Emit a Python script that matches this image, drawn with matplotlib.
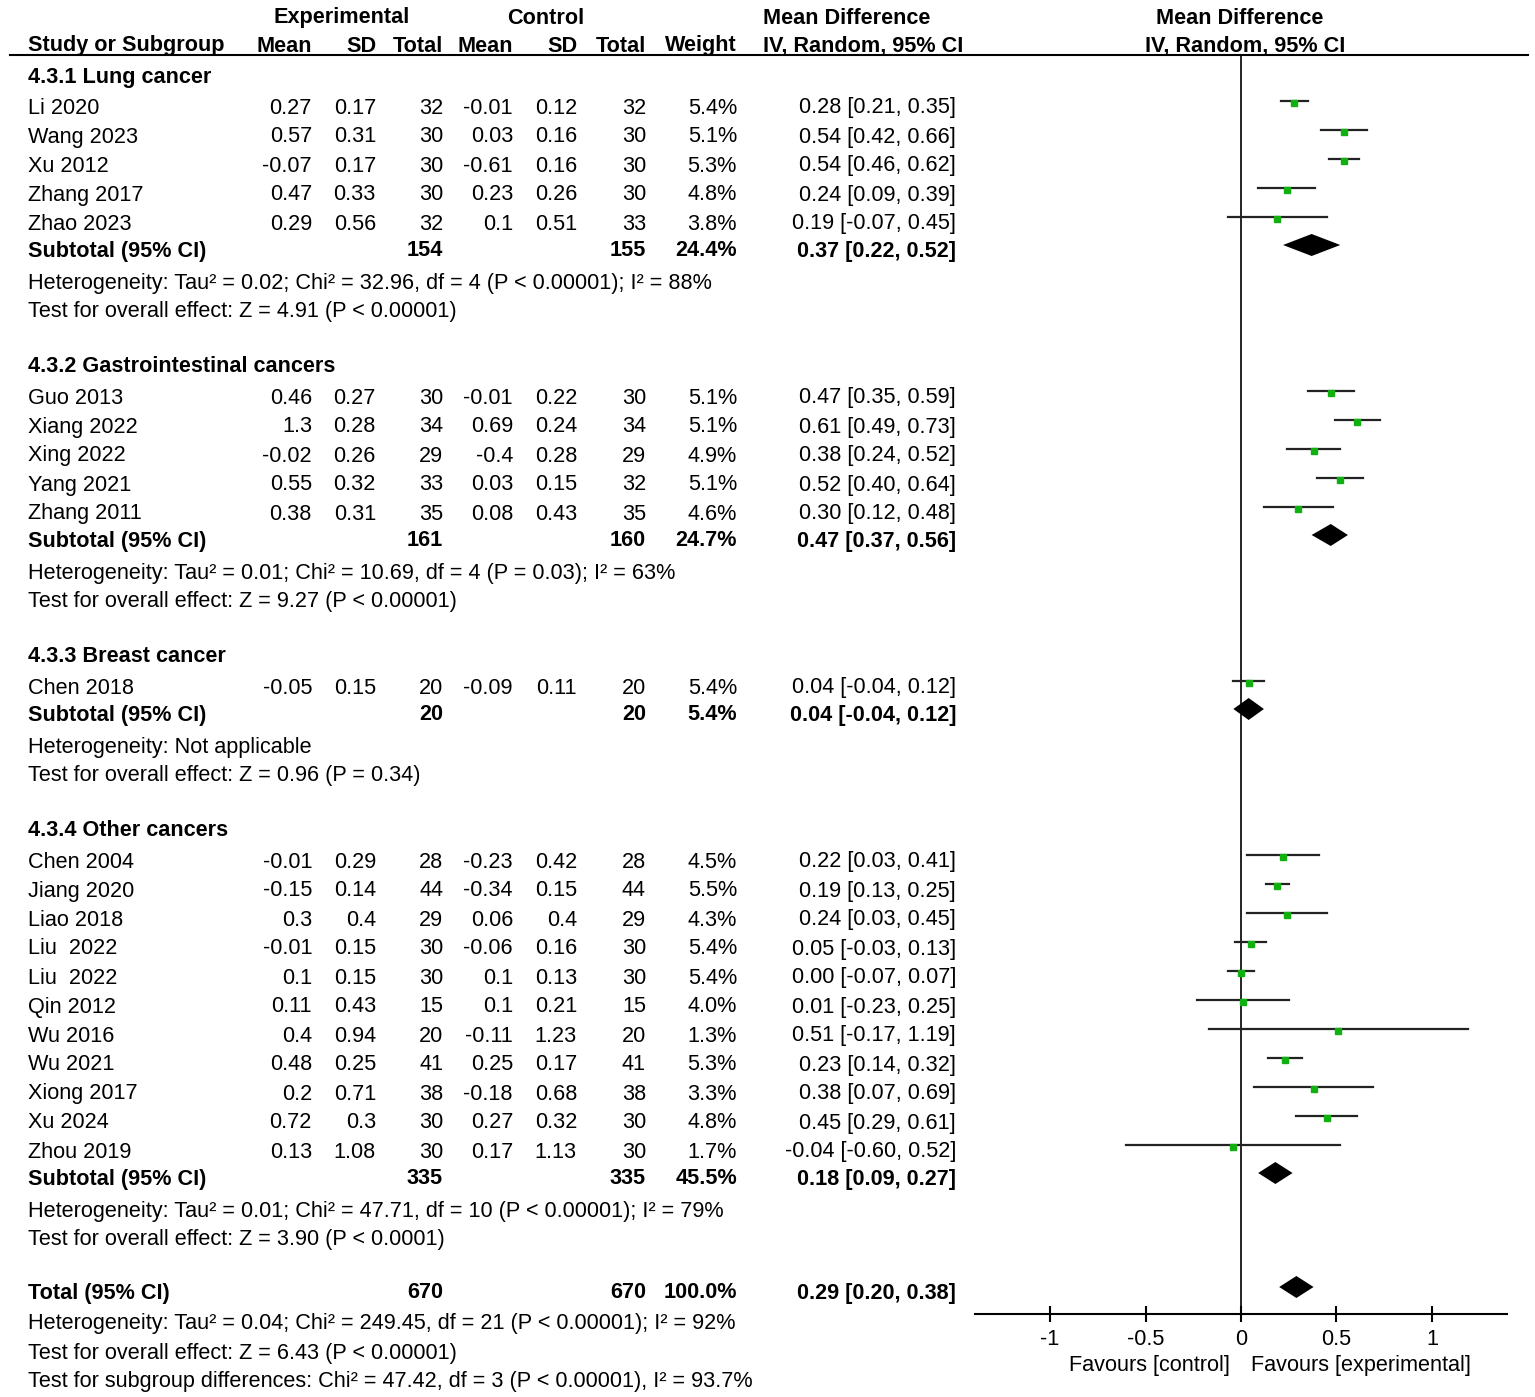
import matplotlib
matplotlib.use("Agg")
import matplotlib.pyplot as plt

plt.rcParams['font.family'] = ['Liberation Sans', 'DejaVu Sans']

# subgroup data
groups = ['4.3.1 Lung cancer', '4.3.2 Gastrointestinal cancers',
          '4.3.3 Breast cancer', '4.3.4 Other cancers']

studies = [
    ['Li 2020', 'Wang 2023', 'Xu 2012', 'Zhang 2017', 'Zhao 2023'],
    ['Guo 2013', 'Xiang 2022', 'Xing 2022', 'Yang 2021', 'Zhang 2011'],
    ['Chen 2018'],
    ['Chen 2004', 'Jiang 2020', 'Liao 2018', 'Liu  2022', 'Liu  2022', 'Qin 2012',
     'Wu 2016', 'Wu 2021', 'Xiong 2017', 'Xu 2024', 'Zhou 2019'],
]
exp_mean = [['0.27', '0.57', '-0.07', '0.47', '0.29'],
            ['0.46', '1.3', '-0.02', '0.55', '0.38'],
            ['-0.05'],
            ['-0.01', '-0.15', '0.3', '-0.01', '0.1', '0.11', '0.4', '0.48', '0.2', '0.72', '0.13']]
exp_sd = [['0.17', '0.31', '0.17', '0.33', '0.56'],
          ['0.27', '0.28', '0.26', '0.32', '0.31'],
          ['0.15'],
          ['0.29', '0.14', '0.4', '0.15', '0.15', '0.43', '0.94', '0.25', '0.71', '0.3', '1.08']]
exp_n = [[32, 30, 30, 30, 32], [30, 34, 29, 33, 35], [20],
         [28, 44, 29, 30, 30, 15, 20, 41, 38, 30, 30]]
ctl_mean = [['-0.01', '0.03', '-0.61', '0.23', '0.1'],
            ['-0.01', '0.69', '-0.4', '0.03', '0.08'],
            ['-0.09'],
            ['-0.23', '-0.34', '0.06', '-0.06', '0.1', '0.1', '-0.11', '0.25', '-0.18', '0.27', '0.17']]
ctl_sd = [['0.12', '0.16', '0.16', '0.26', '0.51'],
          ['0.22', '0.24', '0.28', '0.15', '0.43'],
          ['0.11'],
          ['0.42', '0.15', '0.4', '0.16', '0.13', '0.21', '1.23', '0.17', '0.68', '0.32', '1.13']]
ctl_n = [[32, 30, 30, 30, 33], [30, 34, 29, 32, 35], [20],
         [28, 44, 29, 30, 30, 15, 20, 41, 38, 30, 30]]
weight = [[5.4, 5.1, 5.3, 4.8, 3.8], [5.1, 5.1, 4.9, 5.1, 4.6], [5.4],
          [4.5, 5.5, 4.3, 5.4, 5.4, 4.0, 1.3, 5.3, 3.3, 4.8, 1.7]]
md = [[0.28, 0.54, 0.54, 0.24, 0.19], [0.47, 0.61, 0.38, 0.52, 0.30], [0.04],
      [0.22, 0.19, 0.24, 0.05, 0.00, 0.01, 0.51, 0.23, 0.38, 0.45, -0.04]]
lo = [[0.21, 0.42, 0.46, 0.09, -0.07], [0.35, 0.49, 0.24, 0.40, 0.12], [-0.04],
      [0.03, 0.13, 0.03, -0.03, -0.07, -0.23, -0.17, 0.14, 0.07, 0.29, -0.60]]
hi = [[0.35, 0.66, 0.62, 0.39, 0.45], [0.59, 0.73, 0.52, 0.64, 0.48], [0.12],
      [0.41, 0.25, 0.45, 0.13, 0.07, 0.25, 1.19, 0.32, 0.69, 0.61, 0.52]]

sub_n_exp = [154, 161, 20, 335]
sub_n_ctl = [155, 160, 20, 335]
sub_weight = [24.4, 24.7, 5.4, 45.5]
sub_md = [0.37, 0.47, 0.04, 0.18]
sub_lo = [0.22, 0.37, -0.04, 0.09]
sub_hi = [0.52, 0.56, 0.12, 0.27]
sub_het = ['Heterogeneity: Tau² = 0.02; Chi² = 32.96, df = 4 (P < 0.00001); I² = 88%',
           'Heterogeneity: Tau² = 0.01; Chi² = 10.69, df = 4 (P = 0.03); I² = 63%',
           'Heterogeneity: Not applicable',
           'Heterogeneity: Tau² = 0.01; Chi² = 47.71, df = 10 (P < 0.00001); I² = 79%']
sub_z = ['Test for overall effect: Z = 4.91 (P < 0.00001)',
         'Test for overall effect: Z = 9.27 (P < 0.00001)',
         'Test for overall effect: Z = 0.96 (P = 0.34)',
         'Test for overall effect: Z = 3.90 (P < 0.0001)']

tot_n_exp, tot_n_ctl, tot_weight = 670, 670, 100.0
tot_md, tot_lo, tot_hi = 0.29, 0.20, 0.38
tot_lines = ['Heterogeneity: Tau² = 0.04; Chi² = 249.45, df = 21 (P < 0.00001); I² = 92%',
             'Test for overall effect: Z = 6.43 (P < 0.00001)',
             'Test for subgroup differences: Chi² = 47.42, df = 3 (P < 0.00001), I² = 93.7%']

ticks = [-1, -0.5, 0, 0.5, 1]
tick_labels = ['-1', '-0.5', '0', '0.5', '1']

# layout (pixels)
W, H = 1535, 1397
FS = 15.6
top, step = 77, 29
col_x = [312, 376, 443, 513, 577, 646, 737, 956]  # right edges
name_x = 28

fig = plt.figure(figsize=(W / 100, H / 100), dpi=100)
ax = fig.add_axes([0, 0, 1, 1])
ax.set_xlim(0, W)
ax.set_ylim(H, 0)
ax.axis('off')

fx0, fx1, fy0, fy1 = 975, 1507, 55, 1314
fa = fig.add_axes([fx0 / W, 1 - fy1 / H, (fx1 - fx0) / W, (fy1 - fy0) / H])
fa.set_xlim(-1.393, 1.393)
fa.set_ylim(fy1, fy0)
for s in ['top', 'left', 'right']:
    fa.spines[s].set_visible(False)
fa.spines['bottom'].set_linewidth(1.5)
fa.set_yticks([])
fa.set_xticks(ticks)
fa.set_xticklabels(tick_labels, fontsize=FS)
fa.tick_params(axis='x', direction='inout', length=11, width=1.5, pad=5)
fa.axvline(0, color='black', lw=1.2)
fa.patch.set_alpha(0)


def txt(x, y, s, ha='left', bold=False):
    ax.text(x, y, s, ha=ha, va='center', fontsize=FS,
            fontweight='bold' if bold else 'normal')


def diamond(y, m, l, h):
    fa.fill([l, m, h, m], [y, y - 11, y, y + 11], color='black', lw=0)


# header
for x, s in [(342, 'Experimental'), (546, 'Control')]:
    txt(x, 18, s, ha='center', bold=True)
txt(763, 18, 'Mean Difference', bold=True)
txt(1240, 18, 'Mean Difference', ha='center', bold=True)
txt(name_x, 46, 'Study or Subgroup', bold=True)
for x, s in zip(col_x[:7], ['Mean', 'SD', 'Total', 'Mean', 'SD', 'Total', 'Weight']):
    txt(x, 46, s, ha='right', bold=True)
txt(763, 46, 'IV, Random, 95% CI', bold=True)
txt(1245, 46, 'IV, Random, 95% CI', ha='center', bold=True)
ax.plot([10, 1528], [55, 55], color='black', lw=1.5)

mk_off = -7
row = 0
for g in range(len(groups)):
    txt(name_x, top + row * step, groups[g], bold=True)
    row += 1
    for i in range(len(studies[g])):
        y = top + row * step + 2
        vals = [exp_mean[g][i], exp_sd[g][i], str(exp_n[g][i]), ctl_mean[g][i],
                ctl_sd[g][i], str(ctl_n[g][i]), f'{weight[g][i]:.1f}%',
                f'{md[g][i]:.2f} [{lo[g][i]:.2f}, {hi[g][i]:.2f}]']
        txt(name_x, y, studies[g][i])
        for x, v in zip(col_x, vals):
            txt(x, y, v, ha='right')
        fa.plot([lo[g][i], hi[g][i]], [y + mk_off, y + mk_off], color='#222222', lw=1.6)
        fa.plot(md[g][i], y + mk_off + 2, 's', color='#10b010', mec='#10b010',
                ms=3.4 + 0.17 * weight[g][i])
        row += 1
    y = top + row * step
    txt(name_x, y, 'Subtotal (95% CI)', bold=True)
    txt(col_x[2], y, str(sub_n_exp[g]), ha='right', bold=True)
    txt(col_x[5], y, str(sub_n_ctl[g]), ha='right', bold=True)
    txt(col_x[6], y, f'{sub_weight[g]:.1f}%', ha='right', bold=True)
    txt(col_x[7], y, f'{sub_md[g]:.2f} [{sub_lo[g]:.2f}, {sub_hi[g]:.2f}]', ha='right', bold=True)
    diamond(y + mk_off + 1, sub_md[g], sub_lo[g], sub_hi[g])
    row += 1
    txt(name_x, top + row * step + 3, sub_het[g])
    row += 1
    txt(name_x, top + row * step + 3, sub_z[g])
    row += 2

y = top + row * step - 2
txt(name_x, y, 'Total (95% CI)', bold=True)
txt(col_x[2], y, str(tot_n_exp), ha='right', bold=True)
txt(col_x[5], y, str(tot_n_ctl), ha='right', bold=True)
txt(col_x[6], y, f'{tot_weight:.1f}%', ha='right', bold=True)
txt(col_x[7], y, f'{tot_md:.2f} [{tot_lo:.2f}, {tot_hi:.2f}]', ha='right', bold=True)
diamond(y + mk_off + 1, tot_md, tot_lo, tot_hi)
row += 1
for s in tot_lines:
    txt(name_x, top + row * step, s)
    row += 1

txt(1230, 1365, 'Favours [control]', ha='right')
txt(1251, 1365, 'Favours [experimental]')

fig.savefig('out.png', dpi=100)
